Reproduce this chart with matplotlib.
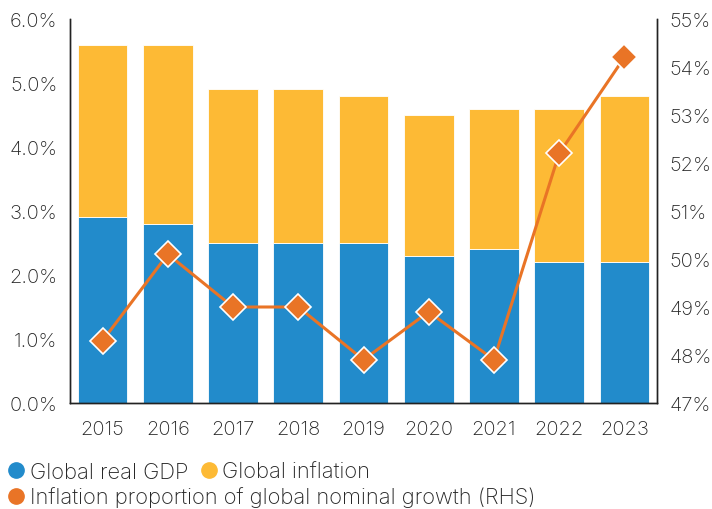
import matplotlib.pyplot as plt
from matplotlib.lines import Line2D
from matplotlib.ticker import FuncFormatter

# Data
years = ['2015', '2016', '2017', '2018', '2019', '2020', '2021', '2022', '2023']
real_gdp = [2.9, 2.8, 2.5, 2.5, 2.5, 2.3, 2.4, 2.2, 2.2]
inflation = [2.7, 2.8, 2.4, 2.4, 2.3, 2.2, 2.2, 2.4, 2.6]
inflation_share = [48.3, 50.1, 49.0, 49.0, 47.9, 48.9, 47.9, 52.2, 54.2]

BLUE = '#228bcb'
YELLOW = '#fdba35'
ORANGE = '#e97426'
TEXT = '#262626'

plt.rcParams['font.family'] = ['Inter', 'DejaVu Sans']
plt.rcParams['font.weight'] = 'light'

fig = plt.figure(figsize=(7.12, 5.10), dpi=100)
ax = fig.add_axes([70 / 712, 1 - 404 / 510, 587 / 712, 384 / 510])

x = list(range(len(years)))
ax.bar(x, real_gdp, width=0.76, color=BLUE, edgecolor='white', linewidth=0.6, zorder=2)
ax.bar(x, inflation, bottom=real_gdp, width=0.76, color=YELLOW,
       edgecolor='white', linewidth=0.6, zorder=2)

ax.set_xlim(-0.5, 8.5)
ax.set_ylim(0, 6)
ax.set_yticks([0, 1, 2, 3, 4, 5, 6])
ax.yaxis.set_major_formatter(FuncFormatter(lambda v, p: f'{v:.1f}%'))
ax.set_xticks(x)
ax.set_xticklabels(years)
ax.tick_params(length=0, labelsize=14.5, colors=TEXT, pad=9)
ax.tick_params(axis='x', pad=12)

ax2 = ax.twinx()
ax2.plot(x, inflation_share, color=ORANGE, linewidth=2.2, marker='D', markersize=13,
         markerfacecolor=ORANGE, markeredgecolor='white', markeredgewidth=1.2, zorder=3)
ax2.set_ylim(47, 55)
ax2.set_yticks(range(47, 56))
ax2.yaxis.set_major_formatter(FuncFormatter(lambda v, p: f'{v:.0f}%'))
ax2.tick_params(length=0, labelsize=14.5, colors=TEXT, pad=9)

for a in (ax, ax2):
    a.spines['top'].set_visible(False)
    for s in ('left', 'right', 'bottom'):
        a.spines[s].set_color('#222222')
        a.spines[s].set_linewidth(1.0)

# Legend drawn as two rows
def dot(c):
    return Line2D([], [], marker='o', linestyle='none', markersize=11,
                  markerfacecolor=c, markeredgecolor=c)

leg1 = fig.legend([dot(BLUE), dot(YELLOW)], ['Global real GDP', 'Global inflation'],
                  loc='center left', bbox_to_anchor=(0.0, 1 - 473 / 510), ncol=2,
                  frameon=False, fontsize=15.8, handletextpad=0.05, columnspacing=0.4,
                  borderaxespad=0, borderpad=0.2, handlelength=1.1)
leg2 = fig.legend([dot(ORANGE)], ['Inflation proportion of global nominal growth (RHS)'],
                  loc='center left', bbox_to_anchor=(0.0, 1 - 498 / 510), ncol=1,
                  frameon=False, fontsize=15.8, handletextpad=0.05,
                  borderaxespad=0, borderpad=0.2, handlelength=1.1)
for lg in (leg1, leg2):
    for t in lg.get_texts():
        t.set_color(TEXT)

fig.savefig('out.png', dpi=100, facecolor='white')
